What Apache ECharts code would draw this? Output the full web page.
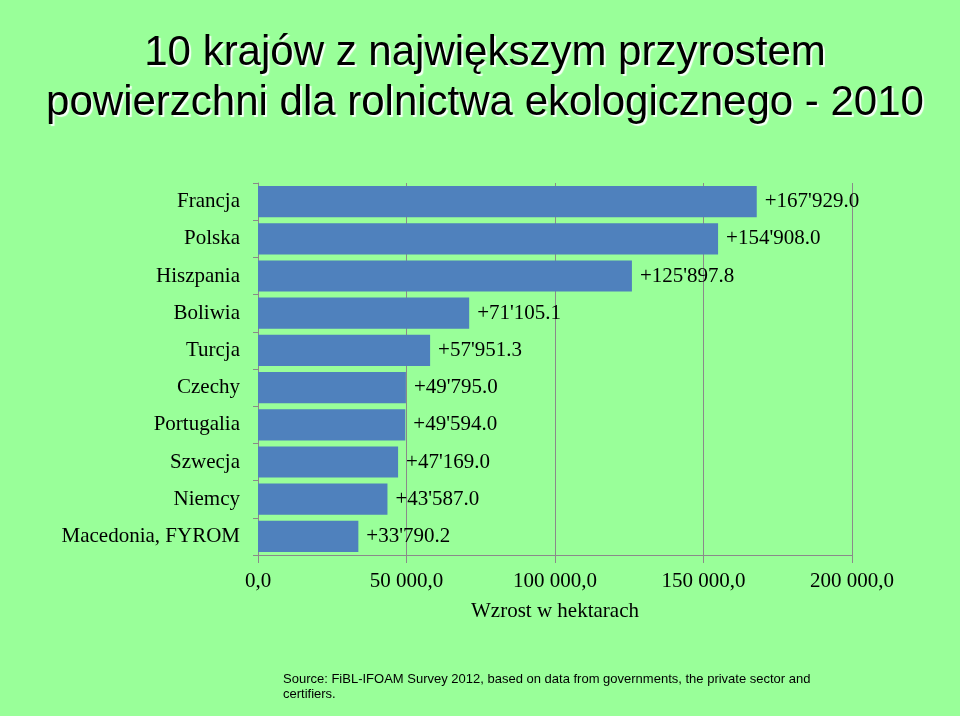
<!DOCTYPE html>
<html>
<head>
<meta charset="utf-8">
<script src="https://cdn.jsdelivr.net/npm/echarts@6/dist/echarts.min.js"></script>
<style>html,body{margin:0;padding:0;background:#99FF99;}#c{width:960px;height:716px;}</style>
</head>
<body>
<div id="c"></div>
<script>
const categories = ['Francja', 'Polska', 'Hiszpania', 'Boliwia', 'Turcja', 'Czechy', 'Portugalia', 'Szwecja', 'Niemcy', 'Macedonia, FYROM'];
const values = [167929.0, 154908.0, 125897.8, 71105.1, 57951.3, 49795.0, 49594.0, 47169.0, 43587.0, 33790.2];
const xTicks = [0, 50000, 100000, 150000, 200000];
const titleText = '10 krajów z największym przyrostem\npowierzchni dla rolnictwa ekologicznego - 2010';
const axisName = 'Wzrost w hektarach';
const sourceText = 'Source: FiBL-IFOAM Survey 2012, based on data from governments, the private sector and\ncertifiers.';

function fmtLabel(v) {
  const parts = v.toFixed(1).split('.');
  const intPart = parts[0].replace(/\B(?=(\d{3})+(?!\d))/g, "'");
  return '+' + intPart + '.' + parts[1];
}
function fmtAxis(v) {
  const parts = v.toFixed(1).split('.');
  const intPart = parts[0].replace(/\B(?=(\d{3})+(?!\d))/g, ' ');
  return intPart + ',' + parts[1];
}

const serif = 'Liberation Serif, Times New Roman, serif';
const chart = echarts.init(document.getElementById('c'));
chart.setOption({
  backgroundColor: '#99FF99',
  animation: false,
  title: [{
    text: titleText,
    left: 480,
    top: 23,
    textAlign: 'center',
    textStyle: {
      fontFamily: 'Liberation Sans, Arial, sans-serif',
      fontWeight: 'normal',
      fontSize: 42,
      lineHeight: 50,
      color: '#000',
      textShadowColor: 'rgba(255,255,255,0.9)',
      textShadowOffsetX: 2,
      textShadowOffsetY: 2,
      textShadowBlur: 1
    }
  }, {
    text: sourceText,
    left: 278,
    top: 667,
    textStyle: {
      fontFamily: 'Liberation Sans, Arial, sans-serif',
      fontWeight: 'normal',
      fontSize: 13,
      lineHeight: 15,
      color: '#000'
    }
  }],
  grid: { left: 258, right: 108, top: 183, bottom: 161 },
  xAxis: {
    type: 'value',
    min: xTicks[0],
    max: xTicks[xTicks.length - 1],
    interval: xTicks[1] - xTicks[0],
    name: axisName,
    nameLocation: 'middle',
    nameGap: 46,
    nameTextStyle: { fontFamily: serif, fontSize: 21, color: '#000' },
    axisLine: { show: true, lineStyle: { color: '#8a8a8a', width: 1 } },
    axisTick: { show: true, length: 8, lineStyle: { color: '#8a8a8a' } },
    splitLine: { show: true, lineStyle: { color: '#8a8a8a', width: 1 } },
    axisLabel: {
      margin: 16,
      formatter: fmtAxis,
      fontFamily: serif,
      fontSize: 21,
      color: '#000'
    }
  },
  yAxis: {
    type: 'category',
    data: categories,
    inverse: true,
    axisLine: { show: true, lineStyle: { color: '#8a8a8a', width: 1 } },
    axisTick: { show: true, length: 5, lineStyle: { color: '#8a8a8a' } },
    axisLabel: {
      margin: 18,
      fontFamily: serif,
      fontSize: 21,
      color: '#000'
    }
  },
  series: [{
    type: 'bar',
    data: values,
    barCategoryGap: '16%',
    itemStyle: { color: '#4F81BD' },
    label: {
      show: true,
      position: 'right',
      distance: 8,
      formatter: p => fmtLabel(p.value),
      fontFamily: serif,
      fontSize: 21,
      color: '#000'
    }
  }]
});
</script>
</body>
</html>
